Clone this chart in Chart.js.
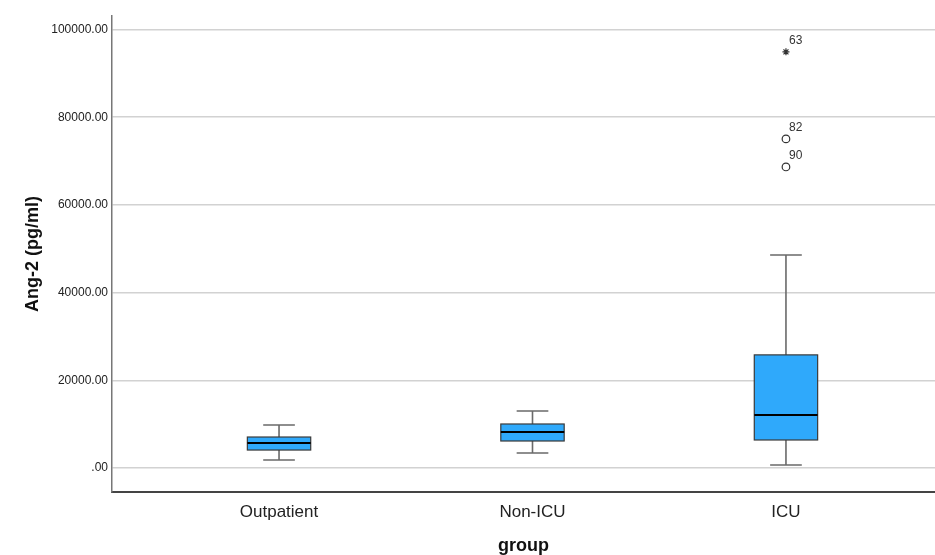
<!DOCTYPE html>
<html>
<head>
<meta charset="utf-8">
<script src="https://cdn.jsdelivr.net/npm/chart.js@4.4.1/dist/chart.umd.min.js"></script>
<style>
  html, body { margin: 0; padding: 0; background: #fff; }
  canvas { display: block; }
</style>
</head>
<body>
<canvas id="boxChart" width="935" height="555"></canvas>
<script>
// Ang-2 by group: five-number summaries per group
const groups = ['Outpatient', 'Non-ICU', 'ICU'];
const whiskerLow = [1820, 3420, 680];
const q1 = [4100, 6160, 6390];
const median = [5700, 8210, 12090];
const q3 = [7070, 10040, 25800];
const whiskerHigh = [9800, 13000, 48590];

// outliers (circles) and extremes (stars), ICU group only
const outlierCases = ['82', '90'];
const outlierValues = [75050, 68660];
const extremeCases = ['63'];
const extremeValues = [94900];

const yTicks = [0, 20000, 40000, 60000, 80000, 100000];

const BOX_HALF = 0.125;
const CAP_HALF = 0.0625;

Chart.defaults.font.family = '"Liberation Sans", Arial, sans-serif';
Chart.defaults.color = '#222';

const boxPlugin = {
  id: 'boxes',
  beforeDatasetsDraw(chart){
    const { ctx, scales: { x, y } } = chart;
    ctx.save();
    groups.forEach((g, i) => {
      const c = x.getPixelForValue(i + 1);
      const l = x.getPixelForValue(i + 1 - BOX_HALF);
      const r = x.getPixelForValue(i + 1 + BOX_HALF);
      const cl = x.getPixelForValue(i + 1 - CAP_HALF);
      const cr = x.getPixelForValue(i + 1 + CAP_HALF);
      const yLo = y.getPixelForValue(whiskerLow[i]);
      const yHi = y.getPixelForValue(whiskerHigh[i]);
      const y1 = y.getPixelForValue(q1[i]);
      const y3 = y.getPixelForValue(q3[i]);
      const ym = y.getPixelForValue(median[i]);

      // whiskers
      ctx.strokeStyle = '#6a6a6a';
      ctx.lineWidth = 1.6;
      ctx.beginPath();
      ctx.moveTo(c, yLo); ctx.lineTo(c, y1);
      ctx.moveTo(c, y3); ctx.lineTo(c, yHi);
      ctx.moveTo(cl, yLo); ctx.lineTo(cr, yLo);
      ctx.moveTo(cl, yHi); ctx.lineTo(cr, yHi);
      ctx.stroke();

      // box
      ctx.fillStyle = '#2fa9fb';
      ctx.fillRect(l, y3, r - l, y1 - y3);
      ctx.strokeStyle = '#3a3a3a';
      ctx.lineWidth = 1.2;
      ctx.strokeRect(l, y3, r - l, y1 - y3);

      // median
      ctx.strokeStyle = '#000';
      ctx.lineWidth = 2.2;
      ctx.beginPath();
      ctx.moveTo(l, ym); ctx.lineTo(r, ym);
      ctx.stroke();
    });
    ctx.restore();
  },
  afterDatasetsDraw(chart){
    const { ctx } = chart;
    ctx.save();
    ctx.font = '12px "Liberation Sans", Arial, sans-serif';
    ctx.fillStyle = '#333';
    ctx.textAlign = 'left';
    ctx.textBaseline = 'middle';
    chart.data.datasets.forEach((ds, di) => {
      const meta = chart.getDatasetMeta(di);
      meta.data.forEach((pt, j) => {
        ctx.fillText(ds.caseLabels[j], pt.x + 3, pt.y - 11);
      });
    });
    ctx.restore();
  }
};

new Chart(document.getElementById('boxChart'), {
  type: 'scatter',
  data: {
    datasets: [
      {
        label: 'Outliers',
        caseLabels: outlierCases,
        data: outlierValues.map(v => ({ x: 3, y: v })),
        pointStyle: 'circle',
        pointRadius: 3.8,
        pointBackgroundColor: '#fff',
        pointBorderColor: '#333',
        pointBorderWidth: 1.2
      },
      {
        label: 'Extremes',
        caseLabels: extremeCases,
        data: extremeValues.map(v => ({ x: 3, y: v })),
        pointStyle: 'star',
        pointRadius: 3.5,
        pointBorderColor: '#333',
        pointBorderWidth: 1.2
      }
    ]
  },
  options: {
    responsive: false,
    animation: false,
    layout: { autoPadding: false, padding: { top: 16, right: 0, bottom: 0, left: 0 } },
    plugins: { legend: { display: false }, tooltip: { enabled: false } },
    scales: {
      x: {
        type: 'linear',
        min: 0.341,
        max: 3.588,
        afterBuildTicks: s => { s.ticks = groups.map((g, i) => ({ value: i + 1 })); },
        afterFit: s => { s.height = 63; },
        ticks: {
          callback: v => groups[v - 1],
          font: { size: 17 },
          color: '#222',
          padding: 10
        },
        grid: { display: false, drawTicks: false },
        border: { display: true, color: '#444', width: 2 },
        title: {
          display: true,
          text: 'group',
          font: { size: 18, weight: 'bold', lineHeight: 1 },
          color: '#111',
          padding: { top: 0, bottom: 0 }
        }
      },
      y: {
        min: -5470,
        max: 103080,
        afterBuildTicks: s => { s.ticks = yTicks.map(v => ({ value: v })); },
        afterFit: s => { s.width = 112; },
        ticks: {
          callback: v => v === 0 ? '.00' : v.toFixed(2),
          font: { size: 12 },
          color: '#222',
          padding: 4
        },
        grid: { color: '#d2d2d2', lineWidth: 1.5, drawTicks: false },
        border: { display: true, color: '#777', width: 1.5 },
        title: {
          display: true,
          text: 'Ang-2 (pg/ml)',
          font: { size: 18, weight: 'bold', lineHeight: 1.2 },
          color: '#111',
          padding: { top: 22, bottom: 0 }
        }
      }
    }
  },
  plugins: [boxPlugin]
});
</script>
</body>
</html>
